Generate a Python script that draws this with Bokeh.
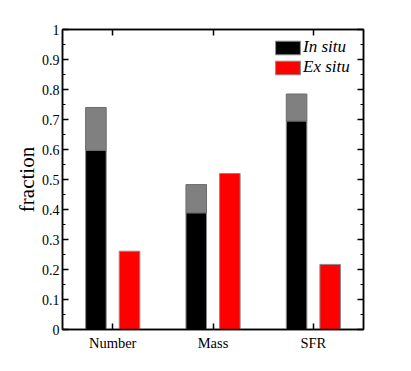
from bokeh.plotting import figure
from bokeh.models import (LinearAxis, FixedTicker, Legend, LegendItem, CustomJSTickFormatter, ColumnDataSource)
from bokeh.transform import dodge
from bokeh.embed import file_html
from bokeh.resources import INLINE

categories = ["Number", "Mass", "SFR"]
cat_pos = [1, 2, 3]
in_situ = [0.597, 0.389, 0.695]
in_situ_total = [0.740, 0.483, 0.785]
ex_situ = [0.261, 0.520, 0.217]
y_ticks = [0, 0.1, 0.2, 0.3, 0.4, 0.5, 0.6, 0.7, 0.8, 0.9, 1]
y_tick_labels = ["0", "0.1", "0.2", "0.3", "0.4", "0.5", "0.6", "0.7", "0.8", "0.9", "1"]
y_minor = [0.05, 0.15, 0.25, 0.35, 0.45, 0.55, 0.65, 0.75, 0.85, 0.95]

FONT = "Liberation Serif"

src = ColumnDataSource(dict(x=cat_pos, ins=in_situ, tot=in_situ_total, ex=ex_situ))

p = figure(width=403, height=363, x_range=(0.5, 3.5), y_range=(0, 1),
           output_backend="svg", toolbar_location=None,
           min_border_left=62, min_border_right=40, min_border_top=29, min_border_bottom=34,
           x_axis_location=None, y_axis_location=None)
p.grid.visible = False
p.outline_line_color = "black"
p.outline_line_width = 1.5
p.background_fill_color = "white"
p.border_fill_color = "white"

edge = "#8a8a8a"
r_in = p.vbar(x=dodge("x", -0.167, range=p.x_range), width=0.205, bottom=0, top="ins", source=src,
              fill_color="black", line_color=edge, line_width=1)
r_gr = p.vbar(x=dodge("x", -0.167, range=p.x_range), width=0.205, bottom="ins", top="tot", source=src,
              fill_color="#808080", line_color="#6a6a6a", line_width=1)
r_ex = p.vbar(x=dodge("x", 0.168, range=p.x_range), width=0.205, bottom=0, top="ex", source=src,
              fill_color="#ff0000", line_color=edge, line_width=1)

empty = CustomJSTickFormatter(code="return ''")

def style_y(ax, labels):
    ax.ticker = FixedTicker(ticks=y_ticks, minor_ticks=y_minor)
    ax.major_tick_in = 6
    ax.major_tick_out = 0
    ax.minor_tick_in = 3
    ax.minor_tick_out = 0
    ax.axis_line_width = 1.5
    ax.major_tick_line_width = 1.5
    ax.minor_tick_line_width = 1.2
    if labels:
        ax.major_label_overrides = dict(zip(y_ticks, y_tick_labels))
        ax.major_label_text_font = FONT
        ax.major_label_text_font_size = "14px"
        ax.major_label_text_color = "black"
        ax.major_label_standoff = 3
    else:
        ax.formatter = empty

def style_x(ax, labels):
    ax.ticker = FixedTicker(ticks=cat_pos)
    ax.major_tick_in = 6
    ax.major_tick_out = 0
    ax.minor_tick_in = 0
    ax.minor_tick_out = 0
    ax.axis_line_width = 1.5
    ax.major_tick_line_width = 1.5
    if labels:
        ax.major_label_overrides = dict(zip(cat_pos, categories))
        ax.major_label_text_font = FONT
        ax.major_label_text_font_size = "14.5px"
        ax.major_label_text_color = "black"
        ax.major_label_standoff = 5
    else:
        ax.formatter = empty

left = LinearAxis(axis_label="fraction")
style_y(left, True)
left.axis_label_text_font = FONT
left.axis_label_text_font_size = "21px"
left.axis_label_text_font_style = "normal"
left.axis_label_text_color = "black"
left.axis_label_standoff = 0
p.add_layout(left, "left")

right = LinearAxis()
style_y(right, False)
p.add_layout(right, "right")

bottom = LinearAxis()
style_x(bottom, True)
p.add_layout(bottom, "below")

top = LinearAxis()
style_x(top, False)
p.add_layout(top, "above")

legend = Legend(items=[LegendItem(label="In situ", renderers=[r_in]),
                       LegendItem(label="Ex situ", renderers=[r_ex])],
                location=(210, 252))
legend.label_text_font = FONT
legend.label_text_font_style = "italic"
legend.label_text_font_size = "17px"
legend.label_text_color = "black"
legend.glyph_width = 31
legend.glyph_height = 17
legend.label_standoff = 0
legend.spacing = 0
legend.padding = 0
legend.margin = 0
legend.border_line_alpha = 0
legend.background_fill_alpha = 0
legend.label_height = 17
p.add_layout(legend)

open("out.html", "w").write(file_html(p, INLINE))
